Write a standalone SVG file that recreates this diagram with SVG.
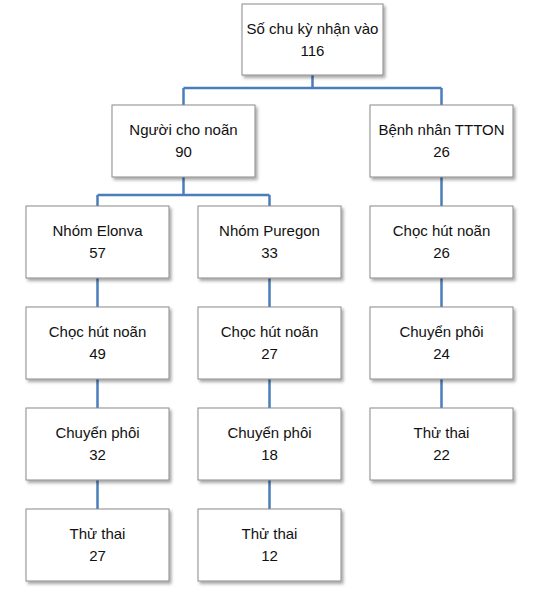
<svg xmlns="http://www.w3.org/2000/svg" width="540" height="590" viewBox="0 0 540 590">
<defs>
<filter id="sh" x="-10%" y="-10%" width="125%" height="130%">
<feDropShadow dx="2" dy="2.5" stdDeviation="1.5" flood-color="#000" flood-opacity="0.35"/>
</filter>
</defs>
<style>
.box{fill:#fff;stroke:#8a8a8a;stroke-width:1;filter:url(#sh)}
.t{font-family:"Liberation Sans",Arial,sans-serif;font-size:15px;fill:#111;text-anchor:middle}
.c{fill:none;stroke:#4a7ebb;stroke-width:2.5}
</style>
<rect width="540" height="590" fill="#fff"/>
<g id="connectors">
<path class="c" d="M312.5 75V88M183.5 88H441.5M183.5 88V105M441.5 88V105M441.5 177V206M183.5 177V195M97.5 195H269.5M97.5 195V206M269.5 195V206M97.5 278V307M97.5 379V408M97.5 480V509M269.5 278V307M269.5 379V408M269.5 480V509M441.5 278V307M441.5 379V408"/>
</g>
<g id="n-root"><rect class="box" x="242" y="4" width="141" height="71"/><text class="t" x="312.5" y="34">Số chu kỳ nhận vào</text><text class="t" x="312.5" y="56">116</text></g>
<g id="n-donor"><rect class="box" x="112" y="105" width="143" height="72"/><text class="t" x="183.5" y="135">Người cho noãn</text><text class="t" x="183.5" y="157">90</text></g>
<g id="n-patient"><rect class="box" x="370" y="105" width="143" height="72"/><text class="t" x="441.5" y="135">Bệnh nhân TTTON</text><text class="t" x="441.5" y="157">26</text></g>
<g id="n-elonva"><rect class="box" x="26" y="206" width="143" height="72"/><text class="t" x="97.5" y="236">Nhóm Elonva</text><text class="t" x="97.5" y="258">57</text></g>
<g id="n-puregon"><rect class="box" x="198" y="206" width="143" height="72"/><text class="t" x="269.5" y="236">Nhóm Puregon</text><text class="t" x="269.5" y="258">33</text></g>
<g id="n-p-choc"><rect class="box" x="370" y="206" width="143" height="72"/><text class="t" x="441.5" y="236">Chọc hút noãn</text><text class="t" x="441.5" y="258">26</text></g>
<g id="n-e-choc"><rect class="box" x="26" y="307" width="143" height="72"/><text class="t" x="97.5" y="337">Chọc hút noãn</text><text class="t" x="97.5" y="359">49</text></g>
<g id="n-u-choc"><rect class="box" x="198" y="307" width="143" height="72"/><text class="t" x="269.5" y="337">Chọc hút noãn</text><text class="t" x="269.5" y="359">27</text></g>
<g id="n-p-chuyen"><rect class="box" x="370" y="307" width="143" height="72"/><text class="t" x="441.5" y="337">Chuyển phôi</text><text class="t" x="441.5" y="359">24</text></g>
<g id="n-e-chuyen"><rect class="box" x="26" y="408" width="143" height="72"/><text class="t" x="97.5" y="438">Chuyển phôi</text><text class="t" x="97.5" y="460">32</text></g>
<g id="n-u-chuyen"><rect class="box" x="198" y="408" width="143" height="72"/><text class="t" x="269.5" y="438">Chuyển phôi</text><text class="t" x="269.5" y="460">18</text></g>
<g id="n-p-thu"><rect class="box" x="370" y="408" width="143" height="72"/><text class="t" x="441.5" y="438">Thử thai</text><text class="t" x="441.5" y="460">22</text></g>
<g id="n-e-thu"><rect class="box" x="26" y="509" width="143" height="72"/><text class="t" x="97.5" y="539">Thử thai</text><text class="t" x="97.5" y="561">27</text></g>
<g id="n-u-thu"><rect class="box" x="198" y="509" width="143" height="72"/><text class="t" x="269.5" y="539">Thử thai</text><text class="t" x="269.5" y="561">12</text></g>
</svg>
